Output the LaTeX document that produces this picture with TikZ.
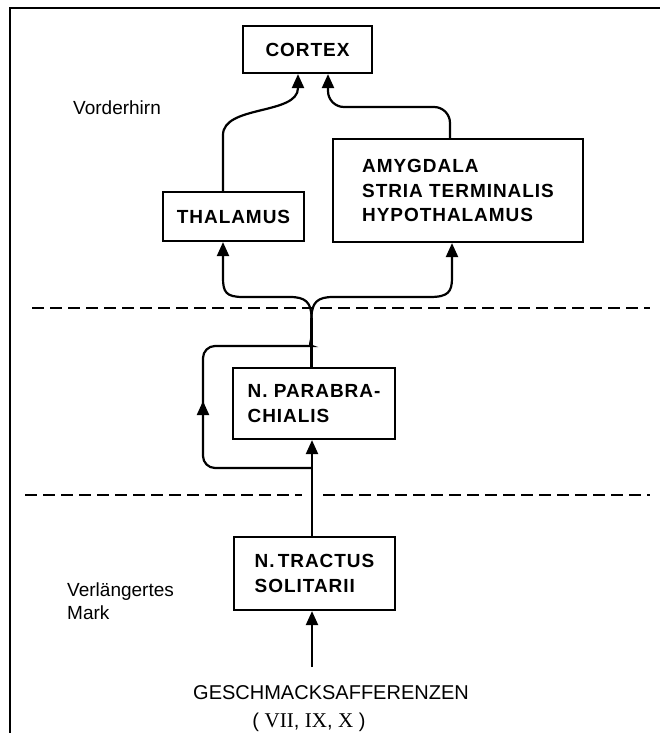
\documentclass[tikz,border=0pt]{standalone}
\usepackage{fontspec}
\setmainfont{Liberation Sans}
\newfontfamily\boxfont[LetterSpace=5]{Liberation Sans}
\newfontfamily\numfont{Liberation Serif}
\usetikzlibrary{arrows.meta,calc}
\begin{document}
\begin{tikzpicture}[x=1pt,y=-1pt,
  boxnode/.style={draw, line width=2.2pt, font=\boxfont\bfseries\fontsize{19}{24.5}\selectfont, inner sep=0pt, align=left},
  arr/.style={line width=2.2pt, -{Triangle[length=14pt,width=12pt]}},
  conn/.style={line width=2.2pt},
  sep/.style={line width=1.3pt, dash pattern=on 12pt off 6pt},
  lbl/.style={font=\fontsize{19}{23}\selectfont, align=left, inner sep=0pt},
  bottomtext/.style={font=\fontsize{20}{24}\selectfont, inner sep=0pt}]
\useasboundingbox (0,0) rectangle (660,733);
% frame
\draw[line width=1.3pt] (660,8) -- (10,8) -- (10,733);
% level separators
\draw[sep] (32,308) -- (650,308);
\draw[sep] (25,495) -- (302,495);
\draw[sep] (323,495) -- (650,495);
% boxes
\node[boxnode, minimum width=129pt, minimum height=47pt] (cortex) at (307.5,49.5) {CORTEX};
\node[boxnode, minimum width=141pt, minimum height=49pt] (thal) at (233.5,216.5) {THALAMUS};
\node[boxnode, minimum width=250pt, minimum height=103pt] (amyg) at (458,190.5) {AMYGDALA\\STRIA TERMINALIS\\HYPOTHALAMUS};
\node[boxnode, minimum width=162pt, minimum height=71pt] (pb) at (314,403.5) {N. PARABRA-\\CHIALIS};
\node[boxnode, minimum width=161pt, minimum height=73pt] (nts) at (314.5,573.5) {N.\,TRACTUS\\SOLITARII};
% labels
\node[lbl, anchor=west] (vh) at (73,108) {Vorderhirn};
\node[lbl, anchor=west] (vm) at (67,601.5) {Verlängertes\\Mark};
\node[bottomtext] (gesch) at (331,693) {GESCHMACKSAFFERENZEN};
\node[bottomtext] (nerv) at (309,722) {( {\numfont\fontsize{21}{24}\selectfont VII}, {\numfont\fontsize{21}{24}\selectfont IX}, {\numfont\fontsize{21}{24}\selectfont X} )};
% helper coordinates
\coordinate (tx) at (312,0);
\coordinate (jx) at (311.5,0);
\coordinate (thx) at (223,0);
\coordinate (cl) at (298,0);
\coordinate (cr) at (328,0);
\coordinate (ax) at (450,0);
\coordinate (aix) at (452,0);
\coordinate (gtop) at (312,667);
\coordinate (lb) at (312,468);
\coordinate (j) at (311.5,318);
\coordinate (merge) at (311.5,333);
% connectors
\draw[arr] (gtop) -- (nts.south -| tx);
\draw[arr] (nts.north -| tx) -- (pb.south -| tx);
\draw[arr, rounded corners=12pt] (lb) -| (203,401);
\draw[conn, rounded corners=12pt] (203,410) |- (300,346) .. controls (308,346) and (311.5,343) .. (merge);
\draw[conn] (pb.north -| jx) -- (j);
\draw[arr] (j) .. controls (311.5,302) and (305,297) .. (290,297) -- (243,297) .. controls (226,297) and (223,292) .. (223,278) -- (thal.south -| thx);
\draw[arr] (j) .. controls (311.5,302) and (318,297) .. (333,297) -- (430,297) .. controls (448,297) and (452,292) .. (452,278) -- (amyg.south -| aix);
\draw[arr] (thal.north -| thx) -- (223,135) .. controls (223,105) and (298,115) .. (298,88) -- (cortex.south -| cl);
\draw[arr, rounded corners=16pt] (amyg.north -| ax) |- (328,107) -- (cortex.south -| cr);
\end{tikzpicture}
\end{document}
